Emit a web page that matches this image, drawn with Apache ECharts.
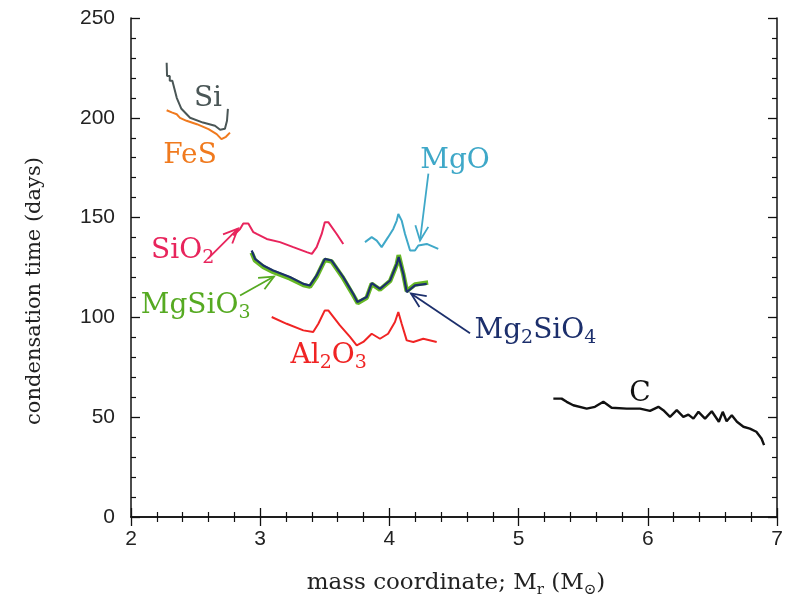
<!DOCTYPE html>
<html>
<head>
<meta charset="utf-8">
<script src="https://cdn.jsdelivr.net/npm/echarts@6/dist/echarts.min.js"></script>
<style>
html,body{margin:0;padding:0;background:#fff;}
#chart{width:789px;height:601px;}
</style>
</head>
<body>
<div id="chart"></div>
<script>
// ---- data (x: mass coordinate in Msun, y: condensation time in days) ----
const siData = [[2.276,227.6],[2.279,221],[2.30,221],[2.30,218.5],[2.32,218.5],[2.354,210],[2.39,204.5],[2.457,200],[2.557,197.6],[2.65,196],[2.69,194],[2.727,194.5],[2.743,198.5],[2.75,204.5]];
const fesData = [[2.276,203.8],[2.315,202.7],[2.354,201.8],[2.379,200],[2.43,198.5],[2.51,196.8],[2.60,194.3],[2.663,191.8],[2.70,189.3],[2.735,190.5],[2.766,192.6]];
const sio2Data = [[2.792,141],[2.844,144.3],[2.869,147],[2.908,147],[2.947,142.7],[2.973,141.8],[3.05,139.3],[3.153,137.7],[3.256,135.2],[3.36,132.7],[3.40,131.8],[3.437,135.2],[3.476,141.8],[3.50,147.7],[3.527,147.7],[3.592,141.8],[3.643,136.8]];
const mgsio3Data = [[2.934,132.5],[2.96,128.5],[3.024,125.3],[3.10,122.8],[3.23,119.5],[3.334,116.2],[3.385,115.4],[3.437,120.4],[3.50,128.8],[3.553,128],[3.643,119.6],[3.72,111.2],[3.755,107.2],[3.824,109.8],[3.863,116.8],[3.927,113.9],[4.005,118.2],[4.057,126.6],[4.072,131.2],[4.108,121.6],[4.134,113.2],[4.198,116.5],[4.30,117.5]];
const mg2sio4Data = [[2.934,133.5],[2.96,129.3],[3.024,126],[3.10,123.5],[3.23,120.2],[3.334,116.8],[3.385,116],[3.437,121],[3.50,129.3],[3.553,128.5],[3.643,120.2],[3.72,111.8],[3.752,107.7],[3.824,110.2],[3.863,117.2],[3.927,114.3],[4.005,118.5],[4.057,126.8],[4.072,130.2],[4.108,121.8],[4.134,112.7],[4.198,116],[4.289,116.8]];
const al2o3Data = [[3.089,100.2],[3.205,96.8],[3.334,93.5],[3.41,92.7],[3.45,96.8],[3.50,103.5],[3.527,103.5],[3.617,96],[3.695,90.2],[3.747,86],[3.798,87.7],[3.863,91.8],[3.927,89.3],[3.99,91.8],[4.043,97.7],[4.069,102.7],[4.095,96.8],[4.134,88.5],[4.185,87.7],[4.262,89.3],[4.366,87.7]];
const mgoData = [[3.811,137.7],[3.863,140.2],[3.902,138.5],[3.94,135.2],[3.99,140.2],[4.03,144.3],[4.057,148.5],[4.069,151.8],[4.095,148.5],[4.121,141.8],[4.16,133.5],[4.198,133.5],[4.224,136],[4.289,136.8],[4.378,134.3]];
const cData = [[5.269,59.3],[5.333,59.3],[5.372,57.7],[5.423,56],[5.527,54.3],[5.591,55.2],[5.656,57.7],[5.72,54.7],[5.837,54.3],[5.94,54.3],[6.017,53.2],[6.082,55.2],[6.12,53.5],[6.172,50.2],[6.224,53.5],[6.275,50.2],[6.314,51.3],[6.353,49.3],[6.392,52.7],[6.443,49.3],[6.495,53],[6.55,47.7],[6.58,52.7],[6.61,48],[6.65,51],[6.69,47.7],[6.74,45.2],[6.79,44.3],[6.84,42.7],[6.88,39.3],[6.90,36]];

const xTicks = [2,3,4,5,6,7];
const yTicks = [0,50,100,150,200,250];

// labels: [text(rich), x, y, color]
const labelDefs = [
  ['Si', 2.596, 209.5, '#4a5656'],
  ['FeS', 2.457, 181, '#f07a1e'],
  ['MgO', 4.508, 178.5, '#3fa8c8'],
  ['SiO{s|2}', 2.40, 133.5, '#e8245c'],
  ['MgSiO{s|3}', 2.50, 106, '#56aa22'],
  ['Al{s|2}O{s|3}', 3.53, 81, '#f02424'],
  ['Mg{s|2}SiO{s|4}', 5.13, 93.5, '#1c2f6c'],
  ['C', 5.94, 62, '#111111']
];
// arrows: [tailX, tailY, tipX, tipY, color]
const arrowDefs = [
  [2.596, 129.5, 2.828, 144.5, '#e8245c'],
  [2.844, 111, 3.107, 120.5, '#56aa22'],
  [4.302, 172, 4.237, 138.5, '#3fa8c8'],
  [4.624, 92, 4.167, 112, '#1c2f6c']
];

const chart = echarts.init(document.getElementById('chart'), null, {renderer:'canvas'});

const tickStyle = {show:true, inside:true, length:9, lineStyle:{color:'#111', width:1.3}};
const minorStyle = {show:true, splitNumber:5, length:5, lineStyle:{color:'#111', width:1.2}};
const lineAx = {show:true, lineStyle:{color:'#111', width:1.5}};

function ln(name, data, color, w, z) {
  return {name, type:'line', data, showSymbol:false, symbol:'none', z:z||2,
    lineStyle:{color, width:w}, itemStyle:{color}, animation:false};
}

chart.setOption({
  backgroundColor:'#fff',
  animation:false,
  grid:{left:131, right:12, top:18, bottom:84, containLabel:false, outerBoundsMode:'none'},
  xAxis:[{
    type:'value', min:2, max:7, interval:1,
    axisLine:lineAx, axisTick:tickStyle, minorTick:minorStyle,
    splitLine:{show:false},
    axisLabel:{color:'#222', fontSize:21, fontFamily:'Liberation Sans', margin:12,
      formatter:v => xTicks.includes(v) ? String(v) : ''}
  },{
    type:'value', min:2, max:7, interval:1, position:'top',
    axisLine:lineAx, axisTick:tickStyle, minorTick:minorStyle,
    splitLine:{show:false}, axisLabel:{show:false}
  }],
  yAxis:[{
    type:'value', min:0, max:250, interval:50,
    axisLine:lineAx, axisTick:tickStyle, minorTick:minorStyle,
    splitLine:{show:false},
    axisLabel:{color:'#222', fontSize:21, fontFamily:'Liberation Sans', margin:16,
      formatter:v => yTicks.includes(v) ? String(v) : ''}
  },{
    type:'value', min:0, max:250, interval:50, position:'right',
    axisLine:lineAx, axisTick:tickStyle, minorTick:minorStyle,
    splitLine:{show:false}, axisLabel:{show:false}
  }],
  series:[
    ln('Si', siData, '#4a5656', 2),
    ln('FeS', fesData, '#f07a1e', 2),
    ln('SiO2', sio2Data, '#e8245c', 2),
    ln('MgSiO3', mgsio3Data, '#66b824', 4.5, 2),
    ln('Mg2SiO4', mg2sio4Data, '#1c2f6c', 2.2, 3),
    ln('Al2O3', al2o3Data, '#f02424', 2),
    ln('MgO', mgoData, '#3fa8c8', 2),
    ln('C', cData, '#111111', 2.4)
  ]
});

const px = (x,y) => chart.convertToPixel({gridIndex:0}, [x,y]);
const graphics = [];
graphics.push({type:'text', x:35, y:291, rotation:Math.PI/2, z:10,
  style:{text:'condensation time (days)', fill:'#222', font:'21px "DejaVu Serif"', align:'center', verticalAlign:'middle'}});
graphics.push({type:'text', x:456, y:583, z:10,
  style:{text:'mass coordinate; M{s|r} (M{s|⊙})', fill:'#222', font:'23px "DejaVu Serif"', align:'center', verticalAlign:'middle',
    rich:{s:{fill:'#222', font:'15px "DejaVu Serif"', padding:[14,0,0,0]}}}});
labelDefs.forEach(([t,x,y,c]) => {
  const p = px(x,y);
  graphics.push({type:'text', x:p[0], y:p[1], z:10,
    style:{text:t, fill:c, font:'28px "DejaVu Serif"', align:'center', verticalAlign:'middle',
      rich:{s:{fill:c, font:'19px "DejaVu Serif"', padding:[16,0,0,0]}}}});
});
arrowDefs.forEach(([x0,y0,x1,y1,c]) => {
  const a = px(x0,y0), b = px(x1,y1);
  const ang = Math.atan2(b[1]-a[1], b[0]-a[0]);
  const L = 16, spread = 0.42;
  const h1 = [b[0]-L*Math.cos(ang-spread), b[1]-L*Math.sin(ang-spread)];
  const h2 = [b[0]-L*Math.cos(ang+spread), b[1]-L*Math.sin(ang+spread)];
  graphics.push({type:'line', z:10, shape:{x1:a[0],y1:a[1],x2:b[0],y2:b[1]}, style:{stroke:c, lineWidth:1.8}});
  graphics.push({type:'polyline', z:10, shape:{points:[h1,b,h2]}, style:{stroke:c, lineWidth:1.8, fill:null}});
});
chart.setOption({graphic: graphics});
</script>
</body>
</html>
